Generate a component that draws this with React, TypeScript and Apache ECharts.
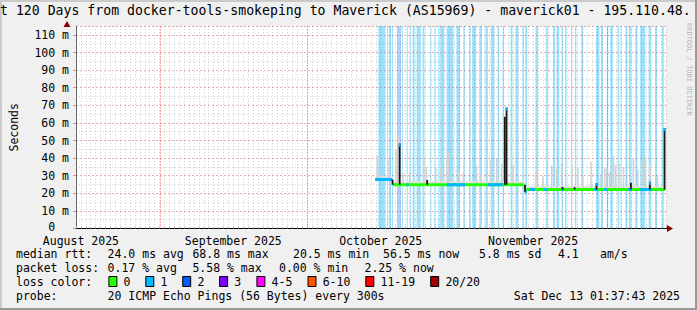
import React, { useEffect, useRef } from 'react';
import * as echarts from 'echarts';

// x values are days since 2025-08-15 00:00
const X_MIN = 0;
const X_MAX = 120;
const Y_MIN = 0;
const Y_MAX = 115;

const monthStartDays = [17, 47, 78, 108];
const monthLabelDays = [1, 32, 62, 93];
const monthLabels = ['August 2025', 'September 2025', 'October 2025', 'November 2025'];

// loss bands: [startDay, endDay, lossLevel]
const lossBands: number[][] = [
  [61.5, 62.9, 1], [63.3, 63.5, 1], [63.7, 64.1, 1], [64.3, 64.5, 1], [65.3, 66.1, 2],
  [66.3, 66.5, 1], [67.3, 67.5, 1], [67.9, 68.1, 1], [68.5, 68.9, 1], [69.3, 70.1, 1],
  [70.5, 70.9, 1], [72.1, 72.3, 1], [72.9, 73.1, 1], [73.7, 73.9, 1], [74.1, 74.9, 1],
  [75.4, 76.8, 1], [77.4, 78.0, 1], [78.8, 79.1, 1], [80.0, 80.3, 1], [80.6, 81.4, 1],
  [82.1, 82.6, 1], [83.3, 83.8, 1], [84.4, 85.1, 1], [85.8, 86.1, 1], [86.8, 87.1, 1],
  [88.4, 88.8, 1], [89.4, 90.0, 1], [90.8, 91.1, 1], [91.4, 91.8, 1], [93.5, 94.0, 1],
  [95.6, 96.0, 1], [97.1, 97.5, 1], [97.8, 98.3, 1], [98.8, 99.1, 1], [99.5, 99.8, 1],
  [100.7, 100.9, 1], [101.5, 101.8, 1], [102.8, 103.2, 1], [105.8, 106.5, 1], [106.8, 107.2, 1],
  [108.0, 108.3, 1], [108.7, 109.2, 1], [110.2, 110.5, 1], [110.8, 111.0, 1], [111.8, 112.2, 1],
  [112.5, 113.0, 1], [113.8, 114.2, 1], [114.8, 115.8, 1], [116.5, 117.0, 1], [117.8, 118.2, 1],
  [119.2, 119.6, 1],
];

// median rtt (ms) horizontal segments: [startDay, endDay, ms]
const medianSegs: number[][] = [
  [60.9, 64.3, 27.8], [64.5, 91.2, 24.8], [91.6, 119.9, 22.2],
];

// median segments measured with 1 lost ping: [startDay, endDay, ms]
const blueSegs: number[][] = [
  [60.9, 64.3, 27.8], [67.3, 67.7, 24.8], [75.4, 79.2, 24.8], [83.8, 86.8, 24.8],
  [91.3, 91.7, 20.9], [92.2, 93.4, 22.2], [95.2, 95.8, 22.2], [98.8, 99.2, 22.2],
  [105.4, 106.2, 22.2], [107.4, 108.2, 22.2], [112.2, 113.0, 22.2], [114.8, 116.2, 22.2],
  [116.4, 117.2, 22.2],
];

// median jumps: [day, fromMs, toMs, blueTip]
const spikes: number[][] = [
  [64.4, 24.8, 27.8, 0], [65.85, 24.8, 48.3, 1], [71.45, 24.8, 27.5, 0],
  [87.25, 24.8, 63.5, 0], [87.6, 24.8, 68.8, 1], [91.35, 20.9, 24.8, 0],
  [99.0, 22.2, 23.6, 0], [101.45, 22.2, 23.4, 0], [105.9, 22.2, 25.8, 1],
  [112.9, 22.2, 26.0, 0], [116.75, 22.2, 26.6, 1], [119.75, 22.2, 57.0, 1],
];

// smoke (ping spread): [day, lowMs, highMs]
const smoke: number[][] = [
  [61.3, 27.8, 41.5], [62.0, 27.8, 31], [63.7, 27.8, 38.9], [65.1, 24.8, 44.6], [65.6, 24.8, 53],
  [66.5, 24.8, 32], [67.9, 24.8, 32], [70.8, 24.8, 39], [71.3, 24.8, 35], [73.2, 24.8, 35],
  [74.2, 24.8, 35], [75.5, 24.8, 40.8], [75.8, 24.8, 43], [77.9, 24.8, 33], [78.8, 24.8, 32],
  [81.5, 24.8, 36], [82.4, 24.8, 31], [84.4, 24.8, 39], [85.6, 24.8, 40], [86.6, 24.8, 37],
  [88.9, 24.8, 36], [93.6, 22.2, 33], [95.0, 22.2, 29.4], [96.8, 22.2, 36], [97.8, 22.2, 34],
  [98.8, 22.2, 37], [100.9, 22.2, 36], [102.1, 22.2, 35], [103.1, 22.2, 29.4], [104.8, 22.2, 38],
  [106.8, 22.2, 29.4], [107.6, 22.2, 35], [108.0, 22.2, 34], [108.6, 22.2, 32], [109.4, 22.2, 41],
  [109.8, 22.2, 36], [110.5, 22.2, 37], [111.4, 22.2, 35], [113.4, 22.2, 40], [114.3, 22.2, 33],
  [115.1, 22.2, 38], [115.8, 22.2, 40.8], [116.8, 22.2, 36], [118.3, 22.2, 29.4],
];

// thin smoke just above the median: [startDay, endDay, lowMs, highMs]
const smokeBase: number[][] = [
  [60.9, 64.3, 27.8, 29.5], [64.5, 91.2, 24.8, 26.8], [91.6, 119.9, 22.2, 24.0],
];

const titleText = 't 120 Days from docker-tools-smokeping to Maverick (AS15969) - maverick01 - 195.110.48.';
const statsRtt = [
  ['median rtt:', 16], ['24.0 ms avg', 107.6], ['68.8 ms max', 192.4], ['20.5 ms min', 293],
  ['56.5 ms now', 383], ['5.8 ms sd', 479], ['4.1', 558], ['am/s', 600],
];
const statsLoss = [
  ['packet loss:', 16], ['0.17 % avg', 107.6], ['5.58 % max', 192.4], ['0.00 % min', 279], ['2.25 % now', 364.5],
];
const lossLegendLabels = ['0', '1', '2', '3', '4-5', '6-10', '11-19', '20/20'];
const lossLegendColors = ['#26ff00', '#00b8ff', '#0059ff', '#7e00ff', '#ff00ff', '#ff5500', '#ff0000', '#a00000'];
const lossLegendBoxX = [108.4, 145.3, 182.2, 219.1, 256.4, 307.5, 365.3, 430.2];
const probeText = '20 ICMP Echo Pings (56 Bytes) every 300s';
const dateText = 'Sat Dec 13 01:37:43 2025';

const MONO = '"DejaVu Sans Mono", monospace';

export default function App() {
  const ref = useRef<HTMLDivElement>(null);
  useEffect(() => {
    if (!ref.current) return;
    const chart = echarts.init(ref.current, undefined, { renderer: 'svg' });

    const txt = (text: string, x: number, y: number, extra: any = {}) => ({
      type: 'text', x, y, z: 50,
      style: { text, fill: '#000', fontFamily: MONO, fontSize: 11.5, verticalAlign: 'middle', align: 'left', ...extra },
    });

    const graphics: any[] = [
      { type: 'rect', z: -10, shape: { x: 0, y: 0, width: 697, height: 310 }, style: { fill: '#f0f0f0' } },
      { type: 'rect', z: -9, shape: { x: 0, y: 0, width: 697, height: 2 }, style: { fill: '#cbcbcb' } },
      { type: 'rect', z: -9, shape: { x: 0, y: 0, width: 2, height: 310 }, style: { fill: '#cbcbcb' } },
      { type: 'rect', z: -9, shape: { x: 0, y: 308, width: 697, height: 2 }, style: { fill: '#999999' } },
      { type: 'rect', z: -9, shape: { x: 695, y: 0, width: 2, height: 310 }, style: { fill: '#999999' } },
      txt(titleText, 0, 10, { fontSize: 13.2 }),
      { type: 'text', x: 688.5, y: 23, rotation: -Math.PI / 2, z: 50,
        style: { text: 'RRDTOOL / TOBI OETIKER', fill: '#b8b8b8', fontFamily: MONO, fontSize: 7, align: 'left', verticalAlign: 'middle' } },
      { type: 'line', z: 60, shape: { x1: 665, y1: 228.5, x2: 668, y2: 228.5 }, style: { stroke: '#000', lineWidth: 1 } },
      { type: 'polygon', z: 60, shape: { points: [[667, 225], [673, 228.5], [667, 232]] }, style: { fill: '#8b0000' } },
      { type: 'polygon', z: 60, shape: { points: [[63.5, 27], [67, 21], [70.5, 27]] }, style: { fill: '#8b0000' } },
    ];
    statsRtt.forEach(([t, x]) => graphics.push(txt(t as string, x as number, 254.3)));
    statsLoss.forEach(([t, x]) => graphics.push(txt(t as string, x as number, 268.3)));
    graphics.push(txt('loss color:', 16, 282.3));
    lossLegendLabels.forEach((l, i) => {
      graphics.push({ type: 'rect', z: 50, shape: { x: lossLegendBoxX[i] + 0.5, y: 276.5, width: 8, height: 10 },
        style: { fill: lossLegendColors[i], stroke: '#000', lineWidth: 1 } });
      graphics.push(txt(l, lossLegendBoxX[i] + 15.2, 282.3));
    });
    graphics.push(txt('probe:', 16, 296));
    graphics.push(txt(probeText, 107.6, 296));
    graphics.push(txt(dateText, 680, 296, { align: 'right' }));

    const option: any = {
      animation: false,
      backgroundColor: '#f0f0f0',
      grid: { left: 67, right: 31.2, top: 26.1, bottom: 81.5, show: true, backgroundColor: '#ffffff', borderWidth: 0 },
      xAxis: {
        type: 'value', min: X_MIN, max: X_MAX, interval: 1,
        axisLine: { show: true, lineStyle: { color: '#000', width: 1 } },
        axisTick: { show: true, inside: true, length: 2, lineStyle: { color: '#b0b0b0' } },
        splitLine: { show: true, lineStyle: { color: 'rgba(150,150,150,0.45)', type: [1, 2], width: 1 } },
        axisLabel: {
          margin: 6.5, color: '#000', fontFamily: MONO, fontSize: 11.5, lineHeight: 11,
          formatter: (v: number) => { const i = monthLabelDays.indexOf(Math.round(v)); return i >= 0 ? monthLabels[i] : ''; },
        },
      },
      yAxis: {
        type: 'value', min: Y_MIN, max: Y_MAX, interval: 10,
        name: 'Seconds', nameLocation: 'middle', nameGap: 56, nameRotate: 90,
        nameTextStyle: { fontFamily: MONO, fontSize: 11.5, color: '#000' },
        axisLine: { show: true, lineStyle: { color: '#666', width: 1 } },
        axisTick: { show: true, length: 3, lineStyle: { color: 'rgba(220,80,80,0.6)' } },
        splitLine: { show: true, lineStyle: { color: 'rgba(230,60,60,0.45)', type: [2, 2], width: 1 } },
        minorTick: { show: false, splitNumber: 2 },
        minorSplitLine: { show: true, lineStyle: { color: 'rgba(150,150,150,0.45)', type: [1, 2], width: 1 } },
        axisLabel: {
          margin: 7, color: '#000', fontFamily: MONO, fontSize: 11.5, lineHeight: 9,
          formatter: (v: number) => (v === 0 ? '{z|0  }' : v + ' m'),
          rich: { z: { fontFamily: MONO, fontSize: 11.5, color: '#000', lineHeight: 9, padding: [0, 0, 4, 0] } },
        },
      },
      graphic: { elements: graphics },
      series: [
        {
          type: 'custom', name: 'loss', z: 1, clip: true,
          encode: { x: [0, 1], y: 2 },
          data: lossBands,
          renderItem: (params: any, api: any) => {
            const s = api.coord([api.value(0), 0]);
            const e = api.coord([api.value(1), 0]);
            const cs = params.coordSys;
            const lvl = api.value(2);
            return { type: 'rect', shape: { x: s[0], y: cs.y, width: Math.max(1, e[0] - s[0]), height: cs.height },
              style: { fill: lvl >= 2 ? 'rgba(60,140,245,0.42)' : 'rgba(12,178,241,0.40)' } };
          },
        },
        {
          type: 'custom', name: 'months', z: 2, clip: true,
          encode: { x: 0 },
          data: monthStartDays.map((d) => [d]),
          renderItem: (params: any, api: any) => {
            const p = api.coord([api.value(0), 0]);
            const cs = params.coordSys;
            return { type: 'line', shape: { x1: Math.round(p[0]) + 0.5, y1: cs.y, x2: Math.round(p[0]) + 0.5, y2: cs.y + cs.height },
              style: { stroke: 'rgba(240,80,80,0.5)', lineWidth: 1, lineDash: [2, 1] } };
          },
        },
        {
          type: 'custom', name: 'smoke base', z: 3, clip: true,
          encode: { x: [0, 1], y: [2, 3] },
          data: smokeBase,
          renderItem: (params: any, api: any) => {
            const s = api.coord([api.value(0), api.value(3)]);
            const e = api.coord([api.value(1), api.value(2)]);
            return { type: 'rect', shape: { x: s[0], y: s[1], width: e[0] - s[0], height: e[1] - s[1] }, style: { fill: '#e2e2e2' } };
          },
        },
        {
          type: 'custom', name: 'smoke', z: 3, clip: true,
          encode: { x: 0, y: [1, 2] },
          data: smoke,
          renderItem: (params: any, api: any) => {
            const lo = api.coord([api.value(0), api.value(1)]);
            const hi = api.coord([api.value(0), api.value(2)]);
            return { type: 'rect', shape: { x: hi[0] - 0.8, y: hi[1], width: 1.6, height: lo[1] - hi[1] },
              style: { fill: '#d2d2d2' } };
          },
        },
        {
          type: 'custom', name: 'median', z: 4, clip: true,
          encode: { x: [0, 1], y: 2 },
          data: medianSegs,
          renderItem: (params: any, api: any) => {
            const s = api.coord([api.value(0), api.value(2)]);
            const e = api.coord([api.value(1), api.value(2)]);
            return { type: 'rect', shape: { x: s[0], y: s[1] - 1.5, width: e[0] - s[0], height: 3 }, style: { fill: '#26ff00' } };
          },
        },
        {
          type: 'custom', name: 'median loss 1', z: 5, clip: true,
          encode: { x: [0, 1], y: 2 },
          data: blueSegs,
          renderItem: (params: any, api: any) => {
            const s = api.coord([api.value(0), api.value(2)]);
            const e = api.coord([api.value(1), api.value(2)]);
            return { type: 'rect', shape: { x: s[0], y: s[1] - 1.5, width: Math.max(1, e[0] - s[0]), height: 3 }, style: { fill: '#00b8ff' } };
          },
        },
        {
          type: 'custom', name: 'spikes', z: 6, clip: true,
          encode: { x: 0, y: [1, 2] },
          data: spikes,
          renderItem: (params: any, api: any) => {
            const lo = api.coord([api.value(0), api.value(1)]);
            const hi = api.coord([api.value(0), api.value(2)]);
            const children: any[] = [
              { type: 'rect', shape: { x: hi[0] - 0.9, y: hi[1], width: 1.8, height: lo[1] - hi[1] }, style: { fill: '#1a1a1a' } },
            ];
            if (api.value(3) > 0) {
              children.push({ type: 'rect', shape: { x: hi[0] - 0.9, y: hi[1], width: 1.8, height: 3 }, style: { fill: '#00b8ff' } });
            }
            return { type: 'group', children };
          },
        },
      ],
    };
    chart.setOption(option);
    return () => chart.dispose();
  }, []);
  return <div ref={ref} style={{ position: 'absolute', left: 0, top: 0, width: 697, height: 310 }} />;
}
